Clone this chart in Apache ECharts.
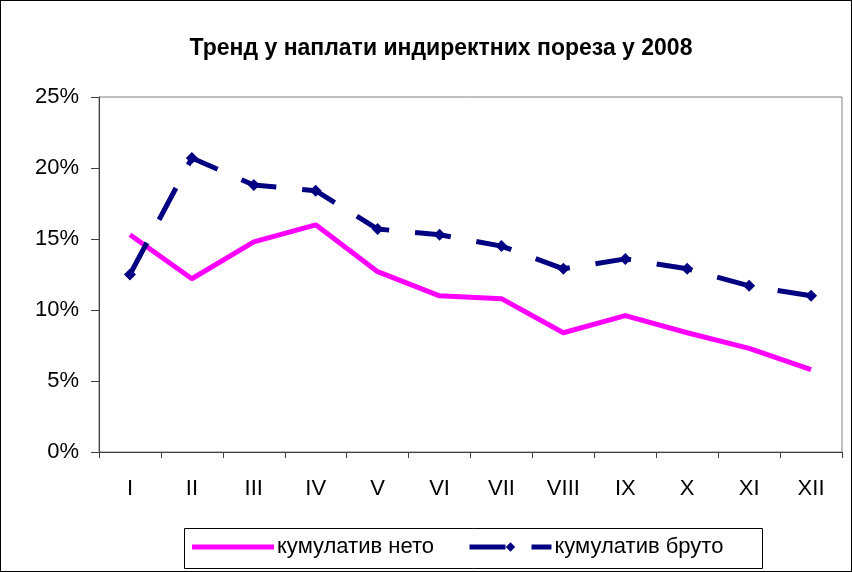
<!DOCTYPE html>
<head>
    <meta charset="utf-8">
    <title>ECharts</title>
    <style>
        body { margin: 0; }
        #main { width: 852px; height: 572px; box-sizing: border-box; border: 1px solid #000; }
    </style>
</head>
<body>
<div id="main"></div>
<script src="https://cdn.jsdelivr.net/npm/echarts@6/dist/echarts.min.js"></script>
<script type="text/javascript">
    // месеци
    var months = ['I', 'II', 'III', 'IV', 'V', 'VI', 'VII', 'VIII', 'IX', 'X', 'XI', 'XII'];
    // вредности у процентима
    var neto = [15.3, 12.2, 14.8, 16.0, 12.7, 11.0, 10.8, 8.4, 9.6, 8.4, 7.3, 5.8];
    var bruto = [12.5, 20.7, 18.8, 18.4, 15.7, 15.3, 14.5, 12.9, 13.6, 12.9, 11.7, 11.0];

    var myChart = echarts.init(document.getElementById('main'));
    myChart.setOption({
        animation: false,
        title: {
            text: 'Тренд у наплати индиректних пореза у 2008',
            left: 435,
            textAlign: 'center',
            top: 31,
            textStyle: { fontFamily: 'Arial', fontSize: 23, fontWeight: 'bold', color: '#000' }
        },
        grid: {
            left: 98, right: 9, top: 96, bottom: 119,
            show: true, borderColor: '#808080', borderWidth: 1
        },
        // рамка легенде
        graphic: [{
            type: 'rect',
            shape: { x: 183.5, y: 527.5, width: 578, height: 40 },
            style: { fill: 'none', stroke: '#000', lineWidth: 1 }
        }],
        legend: {
            left: 191, top: 535,
            padding: 0,
            itemWidth: 82, itemHeight: 12, itemGap: 33,
            textStyle: { fontFamily: 'Arial', fontSize: 22, color: '#000', padding: [0, 0, 0, -2] },
            data: [{
                name: 'кумулатив нето',
                icon: 'path://M0,0 L82,0 L82,5 L0,5 Z'
            }, {
                name: 'кумулатив бруто',
                lineStyle: { width: 5 }
            }]
        },
        xAxis: {
            type: 'category',
            data: months,
            boundaryGap: true,
            axisLine: { lineStyle: { color: '#404040' } },
            axisTick: { show: true, length: 6, lineStyle: { color: '#404040' } },
            axisLabel: { fontFamily: 'Arial', fontSize: 22, color: '#000', margin: 26 }
        },
        yAxis: {
            type: 'value',
            min: 0, max: 25, interval: 5,
            splitLine: { show: false },
            axisLine: { show: true, lineStyle: { color: '#404040' } },
            axisTick: { show: true, length: 8, lineStyle: { color: '#404040' } },
            axisLabel: { fontFamily: 'Arial', fontSize: 22, color: '#000', margin: 20, formatter: '{value}%' }
        },
        series: [{
            name: 'кумулатив нето',
            type: 'line',
            data: neto,
            symbol: 'none',
            lineStyle: { color: '#ff00ff', width: 5 },
            itemStyle: { color: '#ff00ff' }
        }, {
            name: 'кумулатив бруто',
            type: 'line',
            data: bruto,
            symbol: 'diamond',
            symbolSize: 12,
            lineStyle: { color: '#000080', width: 5, type: [36, 26] },
            itemStyle: { color: '#000080' }
        }]
    });
</script>
</body>
